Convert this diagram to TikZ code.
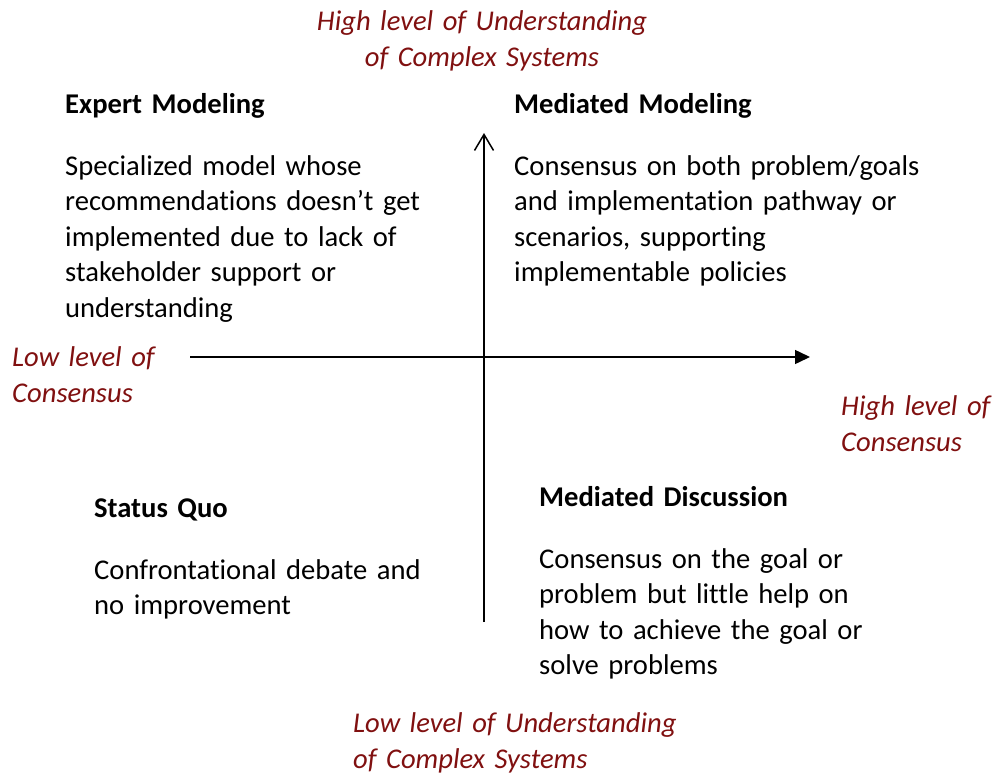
\documentclass[tikz,border=0pt]{standalone}
\usepackage{fontspec}
\setmainfont{Carlito}[Ligatures=NoCommon]
\usetikzlibrary{arrows.meta}
\definecolor{axred}{RGB}{128,16,16}
\tikzset{
  txt/.style={anchor=base west, inner sep=0pt, text width=#1, align=left,
    font=\fontsize{28.6}{35.5}\selectfont},
  txt/.default=420pt,
  head/.style={txt, font=\fontsize{28.6}{35.5}\selectfont\bfseries},
  axlabel/.style={txt=#1, text=axred, font=\fontsize{28.6}{36.5}\selectfont\itshape},
  axis/.style={line width=1.5pt, black}
}
\begin{document}
\begin{tikzpicture}[x=1pt,y=-1pt]
\useasboundingbox (0,0) rectangle (993,774);
% axes
\coordinate (ybot) at (484,622);
\coordinate (ytop) at (484,133);
\coordinate (xleft) at (190,357);
\coordinate (xright) at (810,357);
\draw[axis, -{Straight Barb[length=16pt,width=19pt,line width=1.5pt]}] (ybot) -- (ytop);
\draw[axis, -{Triangle[length=15pt,width=14pt]}] (xleft) -- (xright);
% axis labels
\node[axlabel=400pt, anchor=base, align=center] (topl) at (482,30) {High level of Understanding\\of Complex Systems};
\node[axlabel=400pt] (botl) at (353,732) {Low level of Understanding\\of Complex Systems};
\node[axlabel=200pt] (leftl) at (12,366) {Low level of\\Consensus};
\node[axlabel=150pt] (rightl) at (841,415) {High level of\\Consensus};
% quadrants
\node[head] (emh) at (65,113) {Expert Modeling};
\node[txt] (emb) at (65,175) {Specialized model whose\\recommendations doesn’t get\\implemented due to lack of\\stakeholder support or\\understanding};
\node[head] (mmh) at (514,113) {Mediated Modeling};
\node[txt] (mmb) at (514,175) {Consensus on both problem/goals\\and implementation pathway or\\scenarios, supporting\\implementable policies};
\node[head] (sqh) at (94,517) {Status Quo};
\node[txt] (sqb) at (94,579) {Confrontational debate and\\no improvement};
\node[head] (mdh) at (539,506) {Mediated Discussion};
\node[txt] (mdb) at (539,568) {Consensus on the goal or\\problem but little help on\\how to achieve the goal or\\solve problems};
\end{tikzpicture}
\end{document}
